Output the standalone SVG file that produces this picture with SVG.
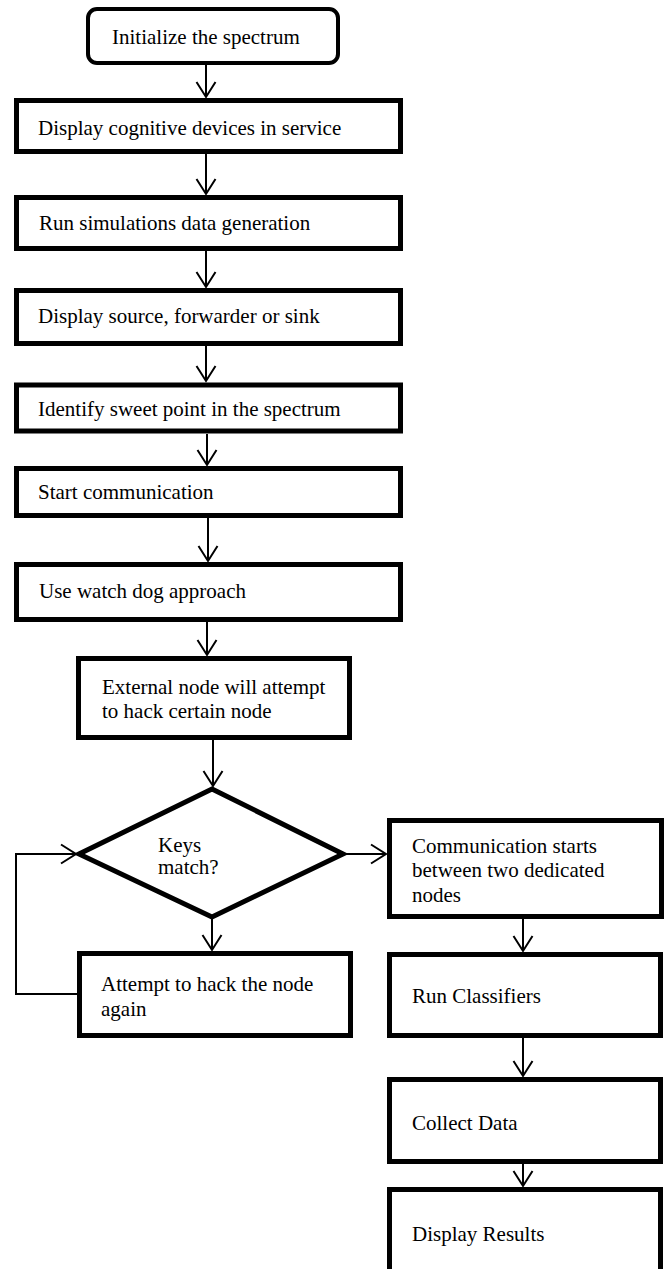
<svg xmlns="http://www.w3.org/2000/svg" width="667" height="1269" viewBox="0 0 667 1269">
<style>
.box{fill:#fff;stroke:#000;stroke-width:5}
.rbox{fill:#fff;stroke:#000;stroke-width:4}
.dia{fill:#fff;stroke:#000;stroke-width:5;stroke-linejoin:miter}
.lbl{font-family:"Liberation Serif","Times New Roman",serif;font-size:21px;fill:#000}
.con{fill:none;stroke:#000;stroke-width:2}
</style>
<defs>
<marker id="vh" markerUnits="userSpaceOnUse" viewBox="-17 -12 19 24" refX="0" refY="0" markerWidth="19" markerHeight="24" orient="auto" overflow="visible">
<path d="M-15,-9.5 L0,0 L-15,9.5" fill="none" stroke="#000" stroke-width="2"/>
</marker>
</defs>
<rect width="667" height="1269" fill="#fff"/>
<g id="connectors">
<path class="con" d="M206,65 V97" marker-end="url(#vh)"/>
<path class="con" d="M206,154 V194" marker-end="url(#vh)"/>
<path class="con" d="M206,251 V287" marker-end="url(#vh)"/>
<path class="con" d="M206,346 V381" marker-end="url(#vh)"/>
<path class="con" d="M207,434 V465" marker-end="url(#vh)"/>
<path class="con" d="M208,518 V561" marker-end="url(#vh)"/>
<path class="con" d="M207,622 V655" marker-end="url(#vh)"/>
<path class="con" d="M213,740 V786" marker-end="url(#vh)"/>
<path class="con" d="M345,854 H386" marker-end="url(#vh)"/>
<path class="con" d="M79,994 H16 V854 H76" marker-end="url(#vh)"/>
<path class="con" d="M212,918 V950" marker-end="url(#vh)"/>
<path class="con" d="M523,919 V951" marker-end="url(#vh)"/>
<path class="con" d="M523,1038 V1076" marker-end="url(#vh)"/>
<path class="con" d="M523,1164 V1186" marker-end="url(#vh)"/>
</g>
<g id="n1"><rect class="rbox" x="88" y="9" width="250" height="54" rx="9"/><text class="lbl" x="112" y="44">Initialize the spectrum</text></g>
<g id="n2"><rect class="box" x="16.5" y="100.5" width="384" height="51"/><text class="lbl" x="38" y="135">Display cognitive devices in service</text></g>
<g id="n3"><rect class="box" x="16.5" y="197.5" width="384" height="51"/><text class="lbl" x="39" y="230">Run simulations data generation</text></g>
<g id="n4"><rect class="box" x="16.5" y="290.5" width="384" height="53"/><text class="lbl" x="38" y="323">Display source, forwarder or sink</text></g>
<g id="n5"><rect class="box" x="16.5" y="385" width="384" height="46"/><text class="lbl" x="38" y="416">Identify sweet point in the spectrum</text></g>
<g id="n6"><rect class="box" x="16.5" y="468.5" width="384" height="47"/><text class="lbl" x="38" y="499">Start communication</text></g>
<g id="n7"><rect class="box" x="16.5" y="564.5" width="384" height="55"/><text class="lbl" x="39" y="598">Use watch dog approach</text></g>
<g id="n8"><rect class="box" x="78.5" y="658.5" width="271" height="79"/><text class="lbl" x="102" y="694">External node will attempt</text><text class="lbl" x="102" y="718">to hack certain node</text></g>
<g id="n9"><polygon class="dia" points="212,789 343,854 212,917 79,854"/><text class="lbl" x="158" y="852">Keys</text><text class="lbl" x="158" y="874">match?</text></g>
<g id="n10"><rect class="box" x="389.5" y="820.5" width="272" height="96"/><text class="lbl" x="412" y="853">Communication starts</text><text class="lbl" x="412" y="877">between two dedicated</text><text class="lbl" x="412" y="902">nodes</text></g>
<g id="n11"><rect class="box" x="79.5" y="953.5" width="271" height="82"/><text class="lbl" x="101" y="991">Attempt to hack the node</text><text class="lbl" x="101" y="1016">again</text></g>
<g id="n12"><rect class="box" x="389.5" y="954.5" width="271" height="81"/><text class="lbl" x="412" y="1003">Run Classifiers</text></g>
<g id="n13"><rect class="box" x="389.5" y="1079.5" width="271" height="82"/><text class="lbl" x="412" y="1130">Collect Data</text></g>
<g id="n14"><rect class="box" x="389.5" y="1189.5" width="271" height="100"/><text class="lbl" x="412" y="1241">Display Results</text></g>
</svg>
